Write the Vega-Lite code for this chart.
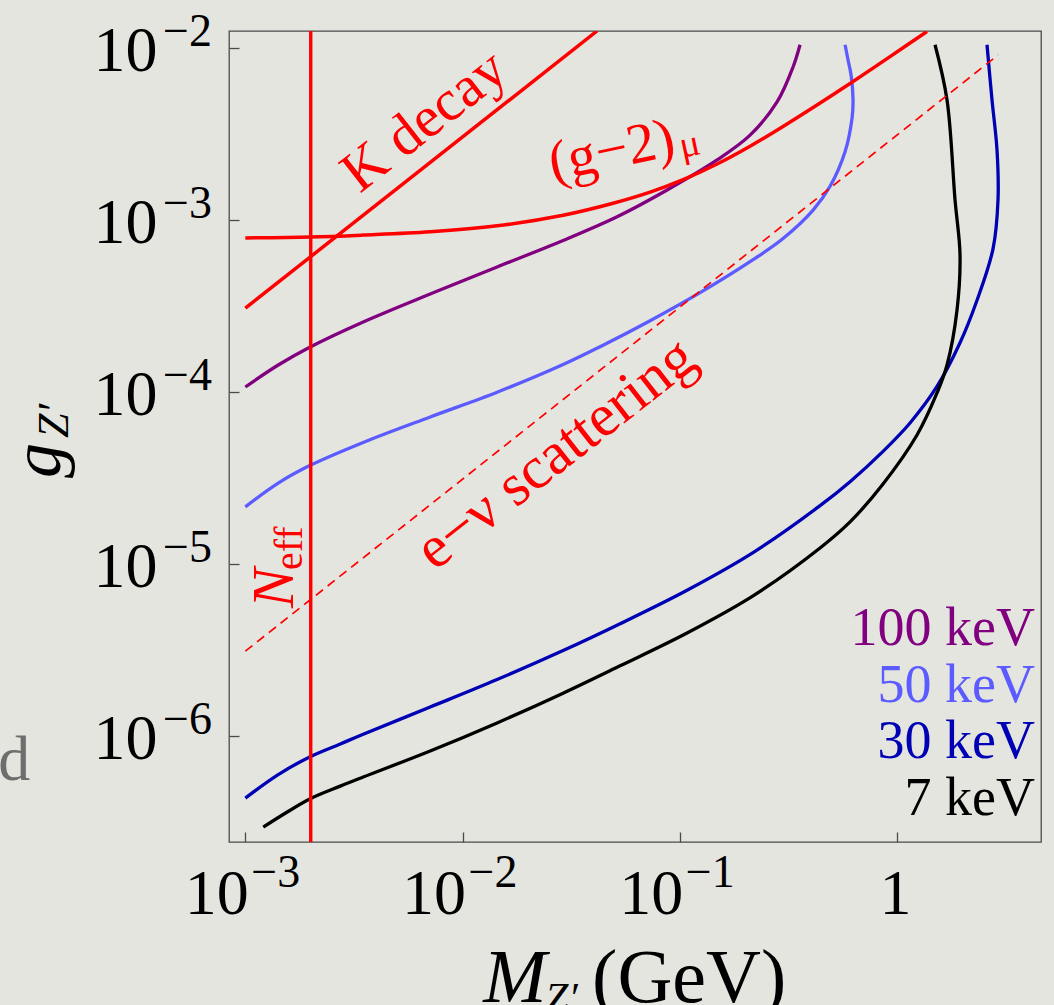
{
  "$schema": "https://vega.github.io/schema/vega-lite/v6.json",
  "width": 812,
  "height": 811,
  "autosize": {"type": "none"},
  "padding": {"left": 229, "top": 31, "right": 13, "bottom": 163},
  "background": "#e5e5e0",
  "config": {
    "view": {"stroke": "#4a4a4a", "strokeWidth": 1.3},
    "axis": {
      "domain": false,
      "grid": false,
      "labelFont": "Liberation Serif",
      "labelColor": "#000000",
      "labelFontSize": 64,
      "tickColor": "#4a4a4a",
      "tickWidth": 1.3,
      "tickSize": -10,
      "labelOverlap": false,
      "labelFlush": false,
      "labelBound": false
    },
    "text": {"font": "Liberation Serif"}
  },
  "layer": [
    {
      "data": {"values": [
        {"series": "100 keV", "i": 0, "M": 0.001, "g": 1.065e-4},
        {"series": "100 keV", "i": 1, "M": 0.001417, "g": 1.429e-4},
        {"series": "100 keV", "i": 2, "M": 0.001989, "g": 1.819e-4},
        {"series": "100 keV", "i": 3, "M": 0.003488, "g": 2.542e-4},
        {"series": "100 keV", "i": 4, "M": 0.007095, "g": 3.698e-4},
        {"series": "100 keV", "i": 5, "M": 0.01442, "g": 5.31e-4},
        {"series": "100 keV", "i": 6, "M": 0.02903, "g": 7.57e-4},
        {"series": "100 keV", "i": 7, "M": 0.05145, "g": 1.04e-3},
        {"series": "100 keV", "i": 8, "M": 0.08743, "g": 1.488e-3},
        {"series": "100 keV", "i": 9, "M": 0.1485, "g": 2.225e-3},
        {"series": "100 keV", "i": 10, "M": 0.2106, "g": 3.10e-3},
        {"series": "100 keV", "i": 11, "M": 0.2804, "g": 4.834e-3},
        {"series": "100 keV", "i": 12, "M": 0.3322, "g": 7.72e-3},
        {"series": "100 keV", "i": 13, "M": 0.3577, "g": 0.0104},

        {"series": "50 keV", "i": 0, "M": 0.001, "g": 2.14e-5},
        {"series": "50 keV", "i": 1, "M": 0.001417, "g": 2.94e-5},
        {"series": "50 keV", "i": 2, "M": 0.001989, "g": 3.73e-5},
        {"series": "50 keV", "i": 3, "M": 0.003488, "g": 5.07e-5},
        {"series": "50 keV", "i": 4, "M": 0.007095, "g": 7.13e-5},
        {"series": "50 keV", "i": 5, "M": 0.01442, "g": 9.93e-5},
        {"series": "50 keV", "i": 6, "M": 0.02903, "g": 1.439e-4},
        {"series": "50 keV", "i": 7, "M": 0.04297, "g": 1.827e-4},
        {"series": "50 keV", "i": 8, "M": 0.07302, "g": 2.587e-4},
        {"series": "50 keV", "i": 9, "M": 0.124, "g": 3.765e-4},
        {"series": "50 keV", "i": 10, "M": 0.2106, "g": 5.70e-4},
        {"series": "50 keV", "i": 11, "M": 0.2988, "g": 7.77e-4},
        {"series": "50 keV", "i": 12, "M": 0.4107, "g": 1.137e-3},
        {"series": "50 keV", "i": 13, "M": 0.4918, "g": 1.564e-3},
        {"series": "50 keV", "i": 14, "M": 0.5765, "g": 2.482e-3},
        {"series": "50 keV", "i": 15, "M": 0.6209, "g": 3.90e-3},
        {"series": "50 keV", "i": 16, "M": 0.6273, "g": 4.966e-3},
        {"series": "50 keV", "i": 17, "M": 0.6144, "g": 6.94e-3},
        {"series": "50 keV", "i": 18, "M": 0.595, "g": 8.48e-3},
        {"series": "50 keV", "i": 19, "M": 0.5765, "g": 0.0104},

        {"series": "30 keV", "i": 0, "M": 0.001, "g": 4.34e-7},
        {"series": "30 keV", "i": 1, "M": 0.001417, "g": 5.94e-7},
        {"series": "30 keV", "i": 2, "M": 0.001989, "g": 7.55e-7},
        {"series": "30 keV", "i": 3, "M": 0.002736, "g": 8.95e-7},
        {"series": "30 keV", "i": 4, "M": 0.003488, "g": 1.02e-6},
        {"series": "30 keV", "i": 5, "M": 0.007095, "g": 1.468e-6},
        {"series": "30 keV", "i": 6, "M": 0.01442, "g": 2.122e-6},
        {"series": "30 keV", "i": 7, "M": 0.02903, "g": 3.128e-6},
        {"series": "30 keV", "i": 8, "M": 0.05312, "g": 4.48e-6},
        {"series": "30 keV", "i": 9, "M": 0.108, "g": 7.01e-6},
        {"series": "30 keV", "i": 10, "M": 0.2174, "g": 1.160e-5},
        {"series": "30 keV", "i": 11, "M": 0.4422, "g": 2.174e-5},
        {"series": "30 keV", "i": 12, "M": 0.6078, "g": 2.997e-5},
        {"series": "30 keV", "i": 13, "M": 0.8622, "g": 4.50e-5},
        {"series": "30 keV", "i": 14, "M": 1.1478, "g": 6.58e-5},
        {"series": "30 keV", "i": 15, "M": 1.5278, "g": 1.072e-4},
        {"series": "30 keV", "i": 16, "M": 1.9498, "g": 1.924e-4},
        {"series": "30 keV", "i": 17, "M": 2.3347, "g": 3.40e-4},
        {"series": "30 keV", "i": 18, "M": 2.7657, "g": 6.76e-4},
        {"series": "30 keV", "i": 19, "M": 2.9161, "g": 1.302e-3},
        {"series": "30 keV", "i": 20, "M": 2.8854, "g": 2.543e-3},
        {"series": "30 keV", "i": 21, "M": 2.7366, "g": 4.966e-3},
        {"series": "30 keV", "i": 22, "M": 2.5952, "g": 0.0104},

        {"series": "7 keV", "i": 0, "M": 0.001209, "g": 2.94e-7},
        {"series": "7 keV", "i": 1, "M": 0.001526, "g": 3.54e-7},
        {"series": "7 keV", "i": 2, "M": 0.001989, "g": 4.30e-7},
        {"series": "7 keV", "i": 3, "M": 0.002736, "g": 5.09e-7},
        {"series": "7 keV", "i": 4, "M": 0.003488, "g": 5.75e-7},
        {"series": "7 keV", "i": 5, "M": 0.007095, "g": 8.15e-7},
        {"series": "7 keV", "i": 6, "M": 0.01442, "g": 1.187e-6},
        {"series": "7 keV", "i": 7, "M": 0.02903, "g": 1.767e-6},
        {"series": "7 keV", "i": 8, "M": 0.05312, "g": 2.549e-6},
        {"series": "7 keV", "i": 9, "M": 0.108, "g": 3.955e-6},
        {"series": "7 keV", "i": 10, "M": 0.2174, "g": 6.50e-6},
        {"series": "7 keV", "i": 11, "M": 0.4422, "g": 1.234e-5},
        {"series": "7 keV", "i": 12, "M": 0.6078, "g": 1.75e-5},
        {"series": "7 keV", "i": 13, "M": 0.8622, "g": 2.906e-5},
        {"series": "7 keV", "i": 14, "M": 1.2359, "g": 5.60e-5},
        {"series": "7 keV", "i": 15, "M": 1.5278, "g": 9.83e-5},
        {"series": "7 keV", "i": 16, "M": 1.699, "g": 1.429e-4},
        {"series": "7 keV", "i": 17, "M": 1.8889, "g": 2.985e-4},
        {"series": "7 keV", "i": 18, "M": 1.9498, "g": 6.23e-4},
        {"series": "7 keV", "i": 19, "M": 1.8493, "g": 1.302e-3},
        {"series": "7 keV", "i": 20, "M": 1.699, "g": 4.966e-3},
        {"series": "7 keV", "i": 21, "M": 1.4958, "g": 0.0104}
      ]},
      "mark": {"type": "line", "strokeWidth": 3.3, "interpolate": "catmull-rom", "clip": true},
      "encoding": {
        "x": {
          "field": "M",
          "type": "quantitative",
          "title": null,
          "scale": {"type": "log", "domain": [0.000841, 4.6], "nice": false},
          "axis": {
            "title": null,
            "values": [0.001, 0.01, 0.1, 1],
            "labelExpr": "datum.value >= 1 ? '1' : '10'",
            "labelAlign": {"condition": {"test": "datum.value >= 1", "value": "center"}, "value": "right"},
            "labelOffset": {"condition": {"test": "datum.value >= 1", "value": -2}, "value": 3},
            "labelBaseline": "alphabetic",
            "labelPadding": 81
          }
        },
        "y": {
          "field": "g",
          "type": "quantitative",
          "title": null,
          "scale": {"type": "log", "domain": [2.41e-7, 0.0125], "nice": false},
          "axis": {
            "title": null,
            "values": [0.000001, 0.00001, 0.0001, 0.001, 0.01],
            "labelExpr": "'10'",
            "labelAlign": "right",
            "labelBaseline": "alphabetic",
            "labelOffset": 23,
            "labelPadding": 82
          }
        },
        "color": {
          "field": "series",
          "type": "nominal",
          "scale": {"domain": ["100 keV", "50 keV", "30 keV", "7 keV"], "range": ["#800080", "#5b5bff", "#0000b4", "#000000"]},
          "legend": null
        },
        "order": {"field": "i", "type": "quantitative"}
      }
    },
    {
      "data": {"values": [
        {"bound": "K decay", "i": 0, "M": 0.001, "g": 3.06e-4},
        {"bound": "K decay", "i": 1, "M": 0.0416, "g": 0.0125},

        {"bound": "(g-2)mu", "i": 0, "M": 0.001, "g": 7.83e-4},
        {"bound": "(g-2)mu", "i": 1, "M": 0.001989, "g": 7.93e-4},
        {"bound": "(g-2)mu", "i": 2, "M": 0.003488, "g": 8.14e-4},
        {"bound": "(g-2)mu", "i": 3, "M": 0.007095, "g": 8.50e-4},
        {"bound": "(g-2)mu", "i": 4, "M": 0.01442, "g": 9.21e-4},
        {"bound": "(g-2)mu", "i": 5, "M": 0.02903, "g": 1.062e-3},
        {"bound": "(g-2)mu", "i": 6, "M": 0.04932, "g": 1.247e-3},
        {"bound": "(g-2)mu", "i": 7, "M": 0.07302, "g": 1.447e-3},
        {"bound": "(g-2)mu", "i": 8, "M": 0.1036, "g": 1.710e-3},
        {"bound": "(g-2)mu", "i": 9, "M": 0.1485, "g": 2.108e-3},
        {"bound": "(g-2)mu", "i": 10, "M": 0.2106, "g": 2.675e-3},
        {"bound": "(g-2)mu", "i": 11, "M": 0.2988, "g": 3.486e-3},
        {"bound": "(g-2)mu", "i": 12, "M": 0.4283, "g": 4.644e-3},
        {"bound": "(g-2)mu", "i": 13, "M": 0.6078, "g": 6.19e-3},
        {"bound": "(g-2)mu", "i": 14, "M": 0.9285, "g": 8.87e-3},
        {"bound": "(g-2)mu", "i": 15, "M": 1.374, "g": 0.01242}
      ]},
      "mark": {"type": "line", "color": "#ff0000", "strokeWidth": 3.5, "interpolate": "catmull-rom", "clip": true},
      "encoding": {
        "x": {"field": "M", "type": "quantitative", "title": null},
        "y": {"field": "g", "type": "quantitative", "title": null},
        "detail": {"field": "bound", "type": "nominal"},
        "order": {"field": "i", "type": "quantitative"}
      }
    },
    {
      "data": {"values": [
        {"bound": "e-nu scattering", "i": 0, "M": 0.001, "g": 3.1e-6},
        {"bound": "e-nu scattering", "i": 1, "M": 2.92, "g": 9.07e-3}
      ]},
      "mark": {"type": "line", "color": "#ff0000", "strokeWidth": 1.7, "strokeDash": [9, 6], "clip": true},
      "encoding": {
        "x": {"field": "M", "type": "quantitative", "title": null},
        "y": {"field": "g", "type": "quantitative", "title": null},
        "order": {"field": "i", "type": "quantitative"}
      }
    },
    {
      "data": {"values": [{"M": 0.002, "g": 2.41e-7, "g2": 0.0125}]},
      "mark": {"type": "rule", "color": "#ff0000", "strokeWidth": 3.4},
      "encoding": {
        "x": {"field": "M", "type": "quantitative", "title": null},
        "y": {"field": "g", "type": "quantitative", "title": null},
        "y2": {"field": "g2"}
      }
    },
    {
      "data": {"values": [
        {"g": 0.01, "expo": "−2"},
        {"g": 0.001, "expo": "−3"},
        {"g": 0.0001, "expo": "−4"},
        {"g": 0.00001, "expo": "−5"},
        {"g": 0.000001, "expo": "−6"}
      ]},
      "mark": {"type": "text", "fontSize": 46, "align": "left", "baseline": "alphabetic", "dx": -66, "dy": -2, "color": "#000000"},
      "encoding": {
        "x": {"datum": 0.000841},
        "y": {"field": "g", "type": "quantitative", "title": null},
        "text": {"field": "expo", "type": "nominal"}
      }
    },
    {
      "data": {"values": [
        {"M": 0.001, "expo": "−3"},
        {"M": 0.01, "expo": "−2"},
        {"M": 0.1, "expo": "−1"}
      ]},
      "mark": {"type": "text", "fontSize": 46, "align": "left", "baseline": "alphabetic", "dx": 6, "dy": 45, "color": "#000000"},
      "encoding": {
        "x": {"field": "M", "type": "quantitative", "title": null},
        "y": {"datum": 2.41e-7},
        "text": {"field": "expo", "type": "nominal"}
      }
    },
    {
      "data": {"values": [
        {"series": "100 keV", "g": 3.37e-6},
        {"series": "50 keV", "g": 1.57e-6},
        {"series": "30 keV", "g": 7.42e-7},
        {"series": "7 keV", "g": 3.46e-7}
      ]},
      "mark": {"type": "text", "fontSize": 54, "align": "right", "baseline": "alphabetic", "dx": -6},
      "encoding": {
        "x": {"datum": 4.6},
        "y": {"field": "g", "type": "quantitative", "title": null},
        "text": {"field": "series", "type": "nominal"},
        "color": {"field": "series", "type": "nominal", "legend": null}
      }
    },
    {
      "data": {"values": [{"label": "K decay", "M": 0.00748, "g": 0.00311}]},
      "mark": {"type": "text", "fontSize": 58, "color": "#ff0000", "angle": 322, "align": "center", "baseline": "alphabetic"},
      "encoding": {
        "x": {"field": "M", "type": "quantitative", "title": null},
        "y": {"field": "g", "type": "quantitative", "title": null},
        "text": {"field": "label", "type": "nominal"}
      }
    },
    {
      "data": {"values": [{"label": "(g−2)", "M": 0.0504, "g": 0.0020}]},
      "mark": {"type": "text", "fontSize": 57, "color": "#ff0000", "angle": 348, "align": "center", "baseline": "alphabetic"},
      "encoding": {
        "x": {"field": "M", "type": "quantitative", "title": null},
        "y": {"field": "g", "type": "quantitative", "title": null},
        "text": {"field": "label", "type": "nominal"}
      }
    },
    {
      "data": {"values": [{"label": "μ", "M": 0.1139, "g": 0.00235}]},
      "mark": {"type": "text", "fontSize": 38, "color": "#ff0000", "angle": 348, "align": "center", "baseline": "alphabetic"},
      "encoding": {
        "x": {"field": "M", "type": "quantitative", "title": null},
        "y": {"field": "g", "type": "quantitative", "title": null},
        "text": {"field": "label", "type": "nominal"}
      }
    },
    {
      "data": {"values": [{"label": "e−ν scattering", "M": 0.0303, "g": 3.6e-5}]},
      "mark": {"type": "text", "fontSize": 60, "color": "#ff0000", "angle": 322, "align": "center", "baseline": "alphabetic"},
      "encoding": {
        "x": {"field": "M", "type": "quantitative", "title": null},
        "y": {"field": "g", "type": "quantitative", "title": null},
        "text": {"field": "label", "type": "nominal"}
      }
    },
    {
      "data": {"values": [{"label": "N", "M": 0.001661, "g": 5.53e-6}]},
      "mark": {"type": "text", "fontSize": 60, "fontStyle": "italic", "color": "#ff0000", "angle": 270, "align": "left", "baseline": "alphabetic"},
      "encoding": {
        "x": {"field": "M", "type": "quantitative", "title": null},
        "y": {"field": "g", "type": "quantitative", "title": null},
        "text": {"field": "label", "type": "nominal"}
      }
    },
    {
      "data": {"values": [{"label": "eff", "M": 0.001827, "g": 9.19e-6}]},
      "mark": {"type": "text", "fontSize": 40, "color": "#ff0000", "angle": 270, "align": "left", "baseline": "alphabetic"},
      "encoding": {
        "x": {"field": "M", "type": "quantitative", "title": null},
        "y": {"field": "g", "type": "quantitative", "title": null},
        "text": {"field": "label", "type": "nominal"}
      }
    },
    {
      "data": {"values": [{"label": "g", "M": 0.0001406, "g": 3.15e-5}]},
      "mark": {"type": "text", "fontSize": 70, "fontStyle": "italic", "color": "#000000", "angle": 270, "align": "left", "baseline": "alphabetic"},
      "encoding": {
        "x": {"field": "M", "type": "quantitative", "title": null},
        "y": {"field": "g", "type": "quantitative", "title": null},
        "text": {"field": "label", "type": "nominal"}
      }
    },
    {
      "data": {"values": [{"label": "Z′", "M": 0.0001531, "g": 5.38e-5}]},
      "mark": {"type": "text", "fontSize": 44, "fontStyle": "italic", "color": "#000000", "angle": 270, "align": "left", "baseline": "alphabetic"},
      "encoding": {
        "x": {"field": "M", "type": "quantitative", "title": null},
        "y": {"field": "g", "type": "quantitative", "title": null},
        "text": {"field": "label", "type": "nominal"}
      }
    },
    {
      "data": {"values": [{"label": "M", "M": 0.01244, "g": 2.83e-8}]},
      "mark": {"type": "text", "fontSize": 76, "fontStyle": "italic", "color": "#000000", "align": "left", "baseline": "alphabetic"},
      "encoding": {
        "x": {"field": "M", "type": "quantitative", "title": null},
        "y": {"field": "g", "type": "quantitative", "title": null},
        "text": {"field": "label", "type": "nominal"}
      }
    },
    {
      "data": {"values": [{"label": "Z′", "M": 0.02399, "g": 2.48e-8}]},
      "mark": {"type": "text", "fontSize": 42, "fontStyle": "italic", "color": "#000000", "align": "left", "baseline": "alphabetic"},
      "encoding": {
        "x": {"field": "M", "type": "quantitative", "title": null},
        "y": {"field": "g", "type": "quantitative", "title": null},
        "text": {"field": "label", "type": "nominal"}
      }
    },
    {
      "data": {"values": [{"label": "(GeV)", "M": 0.03948, "g": 2.83e-8}]},
      "mark": {"type": "text", "fontSize": 76, "color": "#000000", "align": "left", "baseline": "alphabetic"},
      "encoding": {
        "x": {"field": "M", "type": "quantitative", "title": null},
        "y": {"field": "g", "type": "quantitative", "title": null},
        "text": {"field": "label", "type": "nominal"}
      }
    },
    {
      "data": {"values": [{"label": "d", "M": 0.0001023, "g": 5.53e-7}]},
      "mark": {"type": "text", "fontSize": 64, "color": "#6e6e6e", "align": "right", "baseline": "alphabetic"},
      "encoding": {
        "x": {"field": "M", "type": "quantitative", "title": null},
        "y": {"field": "g", "type": "quantitative", "title": null},
        "text": {"field": "label", "type": "nominal"}
      }
    }
  ]
}
